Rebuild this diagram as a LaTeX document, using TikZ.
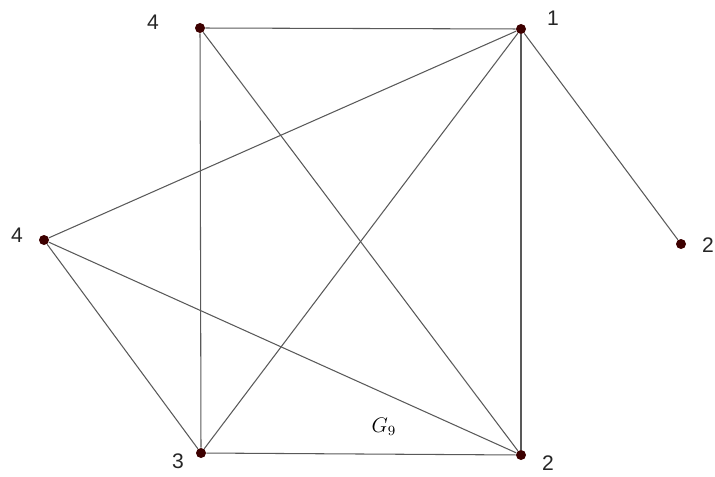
\documentclass[tikz,border=0pt]{standalone}
\usepackage{fontspec}
\setsansfont{Liberation Sans}
\usetikzlibrary{positioning}

\begin{document}
\begin{tikzpicture}[
    vertex/.style={circle, fill=black!70!red!80!black, inner sep=0pt, minimum size=0.2cm},
    vlabel/.style={font=\sffamily\large, text=black!85},
    edge/.style={draw=black!65, line width=0.6pt}
]
\useasboundingbox (0,0) rectangle (14.3,9.52);

% vertices
\node[vertex] (v4a) at (4.00,8.96) {};
\node[vertex] (v1)  at (10.42,8.94) {};
\node[vertex] (v4b) at (0.88,4.72) {};
\node[vertex] (v2a) at (13.62,4.64) {};
\node[vertex] (v3)  at (4.02,0.46) {};
\node[vertex] (v2b) at (10.42,0.42) {};

% labels
\node[vlabel] (l4a) at (3.06,9.08) {4};
\node[vlabel] (l1)  at (11.06,9.16) {1};
\node[vlabel] (l4b) at (0.34,4.82) {4};
\node[vlabel] (l2a) at (14.16,4.62) {2};
\node[vlabel] (l3)  at (3.56,0.3) {3};
\node[vlabel] (l2b) at (10.96,0.26) {2};
\node[font=\large] (g) at (7.68,0.98) {$G_9$};

% edges
\draw[edge] (v4a) -- (v1);
\draw[edge] (v4a) -- (v3);
\draw[edge] (v4a) -- (v2b);
\draw[edge] (v1) -- (v2b);
\draw[edge] (v1) -- (v3);
\draw[edge] (v1) -- (v2a);
\draw[edge] (v1) -- (v4b);
\draw[edge] (v4b) -- (v3);
\draw[edge] (v4b) -- (v2b);
\draw[edge] (v3) -- (v2b);

\end{tikzpicture}
\end{document}
